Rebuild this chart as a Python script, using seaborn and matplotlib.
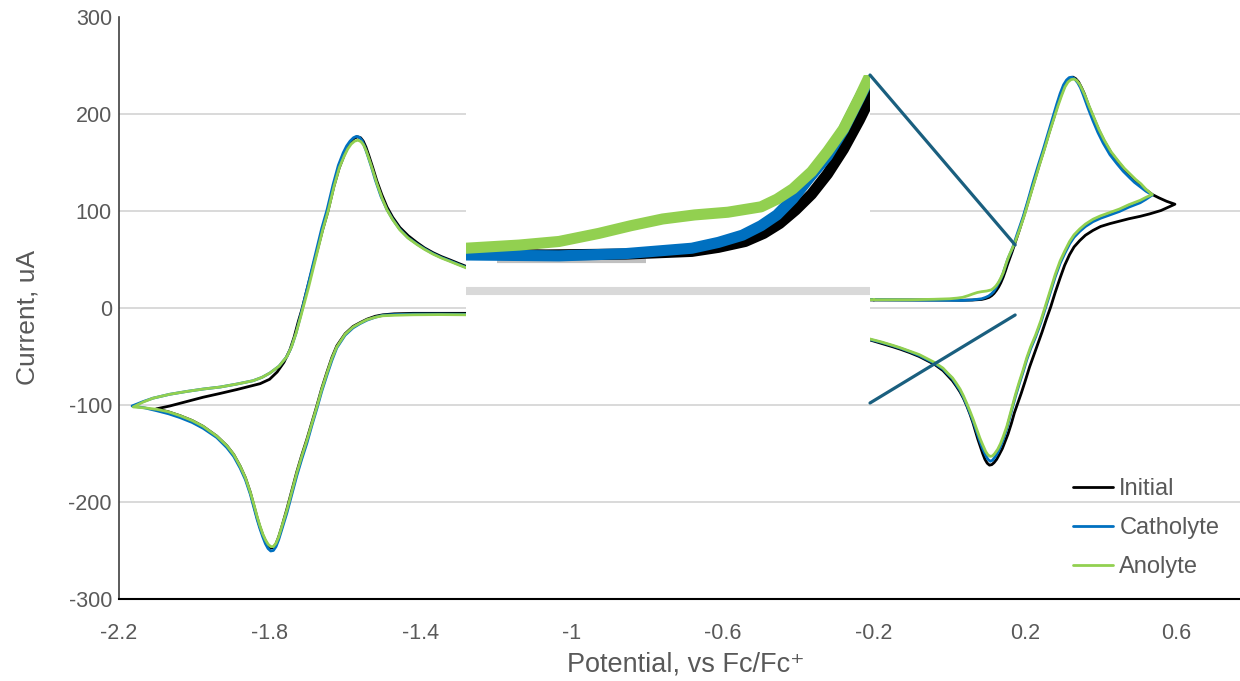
import numpy as np
import pandas as pd
import matplotlib
matplotlib.use("Agg")
import matplotlib.pyplot as plt
import seaborn as sns
from matplotlib.patches import ConnectionPatch

# ---------------- data ----------------
series_names = ["Initial", "Catholyte", "Anolyte"]
series_colors = ["#000000", "#0070C0", "#92D050"]

# Each series is one closed CV loop in scan order: (potential V, current uA),
# starting at -0.2 V on the anodic branch.
initial_pts = [
    (-0.20, 8.3), (-0.10, 8.3), (0.00, 8.2), (0.03, 8.0), (0.06, 8.2), (0.085, 8.8), (0.095, 9.7),
    (0.105, 11), (0.112, 12.8), (0.118, 15), (0.124, 18), (0.13, 21.5), (0.136, 26), (0.142, 31.5),
    (0.148, 38), (0.153, 44), (0.16, 51.5), (0.166, 58), (0.172, 65), (0.184, 79), (0.198, 96),
    (0.211, 113), (0.224, 130), (0.238, 148), (0.251, 164), (0.264, 181), (0.277, 197),
    (0.287, 210), (0.296, 220), (0.305, 229), (0.313, 234.5), (0.32, 237), (0.327, 238),
    (0.334, 236.5), (0.342, 233), (0.35, 227), (0.357, 221), (0.37, 207), (0.383, 195),
    (0.396, 183), (0.41, 172), (0.428, 160), (0.447, 150.5), (0.463, 143), (0.48, 136.5),
    (0.493, 131.5), (0.507, 127), (0.52, 122), (0.537, 117), (0.555, 113.5), (0.575, 110),
    (0.597, 107),
    (0.58, 104), (0.56, 100.5), (0.53, 97), (0.505, 94.5), (0.475, 92), (0.45, 89.5), (0.425, 87),
    (0.40, 84), (0.38, 80), (0.36, 75), (0.345, 69.5), (0.33, 63), (0.318, 55), (0.305, 44),
    (0.293, 31), (0.28, 16), (0.268, 1), (0.257, -11), (0.245, -25), (0.235, -36), (0.224, -48),
    (0.212, -61), (0.20, -76), (0.19, -88), (0.18, -99), (0.172, -108), (0.164, -119),
    (0.155, -130), (0.147, -138), (0.14, -145), (0.132, -151), (0.125, -156), (0.118, -159.5),
    (0.112, -161.5), (0.106, -162), (0.10, -160), (0.094, -156), (0.088, -150), (0.081, -142),
    (0.075, -135), (0.068, -126), (0.062, -118), (0.054, -109), (0.046, -101), (0.037, -93),
    (0.028, -86.5), (0.018, -80.5), (0.008, -75), (-0.005, -69.5), (-0.017, -64.5), (-0.04, -58),
    (-0.06, -54), (-0.08, -50), (-0.105, -46), (-0.13, -42.5), (-0.15, -40), (-0.18, -36.5),
    (-0.21, -33),
    (-0.40, -22), (-0.60, -15), (-0.80, -10), (-1.00, -7), (-1.20, -5.5), (-1.28, -5.5),
    (-1.35, -5.5), (-1.42, -5.5), (-1.47, -6), (-1.50, -7), (-1.52, -8.5), (-1.542, -11.5),
    (-1.56, -15), (-1.579, -19), (-1.60, -26.5), (-1.622, -39), (-1.635, -51), (-1.648, -66),
    (-1.662, -83), (-1.675, -101), (-1.688, -118), (-1.701, -135), (-1.715, -152), (-1.728, -169),
    (-1.741, -188), (-1.754, -207), (-1.768, -226), (-1.776, -236), (-1.783, -243), (-1.79, -247),
    (-1.797, -247.5), (-1.804, -245), (-1.811, -240), (-1.818, -234), (-1.826, -225),
    (-1.833, -216), (-1.842, -203), (-1.851, -190), (-1.864, -175), (-1.878, -163),
    (-1.895, -151), (-1.913, -142), (-1.94, -132), (-1.976, -122), (-2.005, -116), (-2.037, -111),
    (-2.068, -107), (-2.10, -104),
    (-2.082, -102.5), (-2.064, -101), (-2.02, -96.5), (-1.976, -92), (-1.93, -88), (-1.886, -84),
    (-1.855, -81), (-1.825, -78), (-1.80, -73.5), (-1.78, -66), (-1.762, -56), (-1.746, -43),
    (-1.735, -30), (-1.724, -14), (-1.714, -1), (-1.705, 13), (-1.695, 28), (-1.685, 43),
    (-1.672, 62), (-1.66, 80), (-1.646, 99), (-1.63, 125), (-1.616, 144), (-1.603, 157),
    (-1.594, 165), (-1.585, 171), (-1.576, 175), (-1.567, 176.5), (-1.559, 175.5), (-1.552, 172),
    (-1.545, 166), (-1.537, 157), (-1.527, 145), (-1.516, 131), (-1.503, 117), (-1.489, 104),
    (-1.474, 93.5), (-1.455, 83), (-1.433, 74.5), (-1.41, 67.5), (-1.39, 62), (-1.367, 57),
    (-1.345, 53), (-1.322, 49.5), (-1.30, 46), (-1.277, 42.5),
    (-1.20, 36), (-1.00, 26), (-0.80, 19), (-0.60, 14), (-0.40, 10.5), (-0.30, 9), (-0.20, 8.3),
]

catholyte_pts = [
    (-0.20, 8.5), (-0.10, 8.2), (0.00, 8.0), (0.035, 7.8), (0.06, 8.3), (0.085, 9.5), (0.095, 10.8),
    (0.104, 12.4), (0.111, 14.5), (0.117, 16.9), (0.123, 20.5), (0.129, 25), (0.136, 30),
    (0.142, 35.8), (0.149, 44), (0.155, 51), (0.162, 57), (0.168, 63), (0.18, 77), (0.195, 94),
    (0.208, 111), (0.221, 129), (0.235, 147), (0.248, 163), (0.261, 180), (0.274, 197),
    (0.284, 210), (0.293, 221), (0.302, 230), (0.31, 235), (0.317, 237.5), (0.324, 238),
    (0.331, 236.5), (0.34, 232), (0.347, 227), (0.354, 220), (0.367, 206), (0.38, 193),
    (0.393, 181), (0.407, 170), (0.425, 158), (0.444, 148.5), (0.46, 141), (0.478, 134),
    (0.49, 129.5), (0.505, 125), (0.52, 120.5), (0.537, 116.5),
    (0.52, 112), (0.505, 108.5), (0.475, 104), (0.45, 99.5), (0.425, 96), (0.40, 92.5),
    (0.38, 89), (0.36, 84), (0.345, 79), (0.33, 73), (0.318, 66), (0.305, 56), (0.293, 46),
    (0.28, 32), (0.268, 17), (0.255, 1), (0.242, -15), (0.228, -30), (0.215, -42), (0.205, -53),
    (0.195, -66), (0.185, -78), (0.175, -91), (0.168, -101), (0.16, -112), (0.152, -124),
    (0.142, -136), (0.135, -143), (0.128, -149), (0.12, -154), (0.114, -157), (0.108, -158),
    (0.102, -156), (0.096, -152), (0.088, -145), (0.081, -138), (0.075, -131), (0.068, -123),
    (0.062, -116), (0.054, -108), (0.046, -100), (0.037, -92), (0.028, -85), (0.018, -79),
    (0.008, -73), (-0.005, -68), (-0.017, -63), (-0.04, -57), (-0.06, -53), (-0.08, -49),
    (-0.105, -45), (-0.13, -41.5), (-0.15, -39), (-0.18, -35.5), (-0.21, -32.5),
    (-0.40, -22), (-0.60, -15), (-0.80, -10), (-1.00, -7.5), (-1.20, -6.5), (-1.28, -6.5),
    (-1.35, -6.3), (-1.42, -6.3), (-1.47, -6.8), (-1.50, -7.5), (-1.52, -9.5), (-1.542, -12.5),
    (-1.56, -16), (-1.579, -20.5), (-1.60, -28), (-1.622, -41), (-1.635, -54), (-1.648, -69),
    (-1.662, -86), (-1.675, -104), (-1.688, -121), (-1.701, -139), (-1.715, -156), (-1.728, -173),
    (-1.741, -192), (-1.754, -211), (-1.768, -229), (-1.776, -239), (-1.783, -246), (-1.79, -250),
    (-1.797, -250.5), (-1.804, -248), (-1.811, -243), (-1.818, -236), (-1.826, -227),
    (-1.833, -218), (-1.842, -205), (-1.851, -192), (-1.864, -177), (-1.878, -165),
    (-1.895, -153), (-1.913, -144), (-1.94, -133.5), (-1.976, -124), (-2.005, -118),
    (-2.037, -113), (-2.068, -109), (-2.098, -106), (-2.13, -103), (-2.164, -101),
    (-2.135, -96.5), (-2.109, -93), (-2.065, -89), (-2.019, -86), (-1.975, -83.5), (-1.931, -81.5),
    (-1.888, -78.5), (-1.844, -75), (-1.82, -71.5), (-1.799, -67), (-1.775, -60), (-1.754, -50),
    (-1.742, -40), (-1.73, -26), (-1.718, -8), (-1.708, 8), (-1.70, 21), (-1.688, 40),
    (-1.675, 61), (-1.662, 82), (-1.648, 101), (-1.632, 127), (-1.618, 147), (-1.605, 160),
    (-1.596, 167), (-1.587, 172), (-1.578, 175.5), (-1.57, 177), (-1.562, 176), (-1.555, 172.5),
    (-1.548, 166), (-1.54, 157), (-1.53, 145), (-1.52, 132), (-1.505, 115), (-1.49, 102),
    (-1.475, 92), (-1.457, 82), (-1.435, 73), (-1.41, 66), (-1.39, 61), (-1.367, 56),
    (-1.345, 52), (-1.322, 48.5), (-1.30, 45), (-1.277, 41.5),
    (-1.20, 36), (-1.00, 26), (-0.80, 19), (-0.60, 14), (-0.40, 10.5), (-0.30, 9.5), (-0.20, 8.5),
]

anolyte_pts = [
    (-0.20, 8.5), (-0.10, 8.5), (-0.04, 9.0), (0.00, 9.5), (0.02, 10.2), (0.035, 11), (0.05, 12.8),
    (0.062, 14.5), (0.074, 16), (0.086, 16.9), (0.0985, 17.5), (0.111, 18.7), (0.117, 20.4),
    (0.123, 22.7), (0.13, 26.5), (0.136, 31), (0.142, 36), (0.148, 43), (0.152, 48), (0.16, 56),
    (0.172, 66), (0.185, 80), (0.198, 95), (0.211, 112), (0.224, 129), (0.238, 147), (0.251, 163),
    (0.264, 180), (0.277, 196), (0.287, 208), (0.297, 219), (0.306, 228), (0.314, 233),
    (0.322, 235.5), (0.33, 236), (0.337, 234.5), (0.345, 230.5), (0.352, 225), (0.359, 219),
    (0.37, 208), (0.383, 196), (0.396, 184), (0.41, 173), (0.428, 161), (0.447, 151.5),
    (0.463, 144), (0.48, 137.5), (0.493, 132.5), (0.507, 128), (0.52, 122.5), (0.537, 117),
    (0.52, 114), (0.505, 111), (0.475, 106.5), (0.45, 102), (0.425, 98.5), (0.40, 95),
    (0.38, 91.5), (0.36, 86.5), (0.345, 81.5), (0.33, 75.5), (0.318, 68.5), (0.305, 58.5),
    (0.293, 48.5), (0.28, 34.5), (0.268, 19.5), (0.255, 3), (0.242, -13), (0.228, -28),
    (0.215, -40), (0.205, -51), (0.195, -64), (0.185, -76), (0.175, -89), (0.168, -99),
    (0.16, -110), (0.152, -122), (0.142, -133), (0.135, -140), (0.128, -145.5), (0.12, -150),
    (0.114, -152.5), (0.108, -153), (0.102, -151.5), (0.096, -148), (0.088, -141),
    (0.081, -134.5), (0.075, -128), (0.068, -120.5), (0.062, -114), (0.054, -106),
    (0.046, -98.5), (0.037, -90.5), (0.028, -83.5), (0.018, -77.5), (0.008, -72), (-0.005, -67),
    (-0.017, -62), (-0.04, -56), (-0.06, -52), (-0.08, -48), (-0.105, -44.5), (-0.13, -41),
    (-0.15, -38.5), (-0.18, -35), (-0.21, -32),
    (-0.40, -21), (-0.60, -14), (-0.80, -9.5), (-1.00, -7.5), (-1.20, -7), (-1.28, -7),
    (-1.35, -6.8), (-1.42, -7), (-1.47, -7.5), (-1.50, -8), (-1.52, -9.5), (-1.542, -12),
    (-1.56, -15.5), (-1.579, -19.6), (-1.60, -27), (-1.622, -40), (-1.635, -52), (-1.648, -67),
    (-1.662, -84), (-1.675, -102), (-1.688, -119), (-1.701, -136), (-1.715, -153), (-1.728, -170),
    (-1.741, -189), (-1.754, -208), (-1.768, -226), (-1.776, -236), (-1.783, -242.5),
    (-1.79, -246), (-1.797, -246), (-1.804, -243.5), (-1.811, -239), (-1.818, -233),
    (-1.826, -224), (-1.833, -215), (-1.842, -202), (-1.851, -190), (-1.864, -175),
    (-1.878, -163), (-1.895, -151), (-1.913, -142), (-1.94, -132), (-1.976, -122),
    (-2.005, -116), (-2.037, -111), (-2.068, -107), (-2.098, -104.5), (-2.13, -103),
    (-2.161, -102),
    (-2.135, -97), (-2.109, -93), (-2.065, -89), (-2.019, -86), (-1.975, -83.5), (-1.931, -81.5),
    (-1.888, -78.5), (-1.844, -75), (-1.82, -71.5), (-1.799, -67), (-1.775, -60), (-1.754, -50),
    (-1.742, -40), (-1.73, -26), (-1.717, -8), (-1.706, 8), (-1.697, 21), (-1.685, 40),
    (-1.672, 61), (-1.659, 81), (-1.645, 100), (-1.629, 126), (-1.615, 145), (-1.602, 157),
    (-1.593, 164), (-1.584, 169), (-1.575, 172), (-1.566, 173), (-1.558, 171.5), (-1.551, 168),
    (-1.544, 162), (-1.536, 153), (-1.526, 141), (-1.516, 128.5), (-1.502, 113), (-1.489, 101),
    (-1.474, 91), (-1.455, 80.5), (-1.433, 72), (-1.41, 65.5), (-1.39, 60.5), (-1.367, 55.5),
    (-1.345, 51.5), (-1.322, 48), (-1.30, 44.5), (-1.277, 41),
    (-1.20, 35.5), (-1.00, 26), (-0.80, 19), (-0.60, 14), (-0.40, 10.5), (-0.30, 9.5), (-0.20, 8.5),
]

xtick_vals = [-2.2, -1.8, -1.4, -1.0, -0.6, -0.2, 0.2, 0.6]
xtick_labels = ["-2.2", "-1.8", "-1.4", "-1", "-0.6", "-0.2", "0.2", "0.6"]
ytick_vals = [-300, -200, -100, 0, 100, 200, 300]
ytick_labels = ["-300", "-200", "-100", "0", "100", "200", "300"]
grid_vals = [-200, -100, 0, 100, 200]

# magnified region shown in the inset
inset_xlim = (0.0, 0.152)
inset_ylim = (-24.9, 48.0)
zoom_box_x = 0.174
zoom_box_y = [65.0, -7.2]

# ---------------- build table ----------------
frames = []
for name, pts in [("Initial", initial_pts), ("Catholyte", catholyte_pts), ("Anolyte", anolyte_pts)]:
    E, I = zip(*pts)
    frames.append(pd.DataFrame({"E": E, "I": I, "Series": name}))
df = pd.concat(frames, ignore_index=True)

# ---------------- style ----------------
sns.set_theme(style="white")
plt.rcParams["font.family"] = ["Liberation Sans", "DejaVu Sans"]
text_color = "#595959"

W, H = 1240, 681
fig = plt.figure(figsize=(W / 100, H / 100), dpi=100)
ax = fig.add_axes([118.5 / W, (H - 599) / H, (W - 118.5) / W, 582 / H])

for g in grid_vals:
    ax.axhline(g, color="#d9d9d9", lw=1.4, zorder=0)

sns.lineplot(data=df, x="E", y="I", hue="Series", hue_order=series_names,
             palette=series_colors, sort=False, estimator=None, linewidth=2.0,
             solid_joinstyle="round", ax=ax, legend=True)

ax.set_xlim(-2.2, -2.2 + (W - 118.5) / 377.7)
ax.set_ylim(-300, 300)
ax.set_xticks(xtick_vals)
ax.set_xticklabels(xtick_labels)
ax.set_yticks(ytick_vals)
ax.set_yticklabels(ytick_labels)
ax.tick_params(axis="x", direction="in", length=5, width=1.1, color="black",
               labelsize=15.5, labelcolor=text_color, pad=17.5)
ax.tick_params(axis="y", length=0, labelsize=15.5, labelcolor=text_color, pad=4.7)

for s in ["top", "right"]:
    ax.spines[s].set_visible(False)
ax.spines["left"].set_color("#404040")
ax.spines["left"].set_linewidth(1.2)
ax.spines["bottom"].set_color("black")
ax.spines["bottom"].set_linewidth(1.5)

ax.set_xlabel("Potential, vs Fc/Fc\u207a", fontsize=19.5, color=text_color)
ax.set_ylabel("Current, uA", fontsize=19, color=text_color)
ax.xaxis.set_label_coords(0.506, -0.1134)
ax.xaxis.label.set_verticalalignment("center")
ax.yaxis.set_label_coords(-0.0807, 0.483)
ax.yaxis.label.set_verticalalignment("center")

handles, labels = ax.get_legend_handles_labels()
leg = ax.legend(handles, labels, loc="upper left", frameon=False, fontsize=17,
                bbox_to_anchor=(1052 / W, 1 - 457 / H), bbox_transform=fig.transFigure,
                handlelength=1.7, handletextpad=0.25, labelspacing=0.71, borderpad=0.4)
for t in leg.get_texts():
    t.set_color(text_color)
for l in leg.get_lines():
    l.set_linewidth(2.0)

# ---------------- inset (magnified view) ----------------
axin = fig.add_axes([466 / W, (H - 403) / H, 404 / W, 328 / H])
axin.set_facecolor("white")
axin.axhline(0, color="#d9d9d9", lw=5.8, zorder=0)
axin.hlines(6.6, 0.0117, 0.0677, color="#c0c0c0", lw=3.0, zorder=0)
sns.lineplot(data=df, x="E", y="I", hue="Series", hue_order=series_names,
             palette=series_colors, sort=False, estimator=None, linewidth=8.0,
             solid_joinstyle="round", ax=axin, legend=False)
axin.set_xlim(*inset_xlim)
axin.set_ylim(*inset_ylim)
axin.set_xticks([])
axin.set_yticks([])
axin.set_xlabel("")
axin.set_ylabel("")
for s in axin.spines.values():
    s.set_visible(False)

for ya, yb in zip([1, 0], zoom_box_y):
    con = ConnectionPatch(xyA=(1, ya), coordsA=axin.transAxes,
                          xyB=(zoom_box_x, yb), coordsB=ax.transData,
                          color="#1a5f7f", lw=2.3, zorder=5)
    fig.add_artist(con)

fig.savefig("out.png", dpi=100)
